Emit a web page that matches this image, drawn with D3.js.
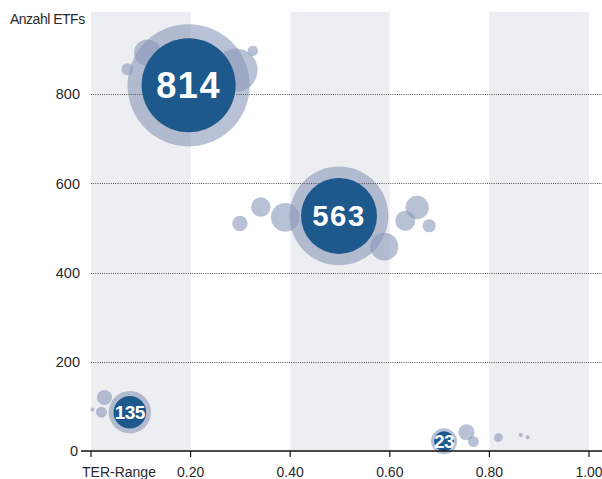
<!DOCTYPE html>
<html>
<head>
<meta charset="utf-8">
<script src="https://cdn.jsdelivr.net/npm/d3@7.9.0/dist/d3.min.js"></script>
<style>
  body { margin: 0; background: #fff; }
  svg { display: block; font-family: "Liberation Sans", Arial, sans-serif; }
</style>
</head>
<body>
<div id="chart"></div>
<script>
// Main bubbles: TER position, y position, bubble size, label (number of ETFs)
const groupTer = [0.196, 0.498, 0.078, 0.709];
const groupY = [820, 527, 87, 22];
const groupSize = [814, 532, 98, 37];
const groupLabel = ["814", "563", "135", "23"];

// Small bubbles around each group
const smallTer = [0.113, 0.073, 0.291, 0.325,
                  0.299, 0.341, 0.390, 0.589, 0.631, 0.655, 0.679,
                  0.003, 0.027, 0.021,
                  0.754, 0.768, 0.818, 0.863, 0.877];
const smallY = [893, 856, 854, 897,
                510, 547, 524, 458, 516, 546, 505,
                93, 120, 87,
                42, 21, 30, 36, 31];
const smallSize = [65, 13, 173, 10,
                   22, 35, 75, 72, 37, 50, 16,
                   1.5, 21, 11,
                   24, 11, 7, 1.5, 1.5];

const xTicks = [0, 0.2, 0.4, 0.6, 0.8, 1.0];
const yTicks = [0, 200, 400, 600, 800];
const bands = [[0, 0.2], [0.4, 0.6], [0.8, 1.0]];

const W = 602, H = 479;
const margin = { top: 5, left: 91 };

const svg = d3.select("#chart").append("svg")
  .attr("width", W).attr("height", H);

const x = d3.scaleLinear().domain([0, 1]).range([margin.left, 589]);
const y = d3.scaleLinear().domain([0, 1000]).range([451, margin.top]);
const r = d3.scaleSqrt().domain([0, 814]).range([0, 47]);

// grey bands
svg.append("g").selectAll("rect").data(bands).join("rect")
  .attr("x", d => x(d[0]))
  .attr("y", y(985))
  .attr("width", d => x(d[1]) - x(d[0]))
  .attr("height", y(0) - y(985))
  .attr("fill", "#edeef1");

const fillLight = "rgb(137,152,185)";

// halos
const groups = groupTer.map((t, i) => ({ t, v: groupY[i], s: groupSize[i], label: groupLabel[i] }));
svg.append("g").selectAll("circle").data(groups).join("circle")
  .attr("cx", d => x(d.t))
  .attr("cy", d => y(d.v))
  .attr("r", d => r(d.s) * 1.3)
  .attr("fill", fillLight)
  .attr("fill-opacity", 0.6);

// small bubbles
const smalls = smallTer.map((t, i) => ({ t, v: smallY[i], s: smallSize[i] }));
svg.append("g").selectAll("circle").data(smalls).join("circle")
  .attr("cx", d => x(d.t))
  .attr("cy", d => y(d.v))
  .attr("r", d => r(d.s))
  .attr("fill", fillLight)
  .attr("fill-opacity", 0.6);

// dotted grid lines
svg.append("g").selectAll("line").data(yTicks.filter(d => d > 0)).join("line")
  .attr("x1", x(0)).attr("x2", W)
  .attr("y1", d => Math.round(y(d)) + 0.5)
  .attr("y2", d => Math.round(y(d)) + 0.5)
  .attr("stroke", "#555")
  .attr("stroke-width", 1)
  .attr("stroke-dasharray", "1,1.2");

// dark bubbles
svg.append("g").selectAll("circle").data(groups).join("circle")
  .attr("cx", d => x(d.t))
  .attr("cy", d => y(d.v))
  .attr("r", d => r(d.s))
  .attr("fill", "#1d598c");

svg.append("g").selectAll("text").data(groups).join("text")
  .attr("x", d => x(d.t))
  .attr("y", d => y(d.v))
  .attr("dy", "0.36em")
  .attr("text-anchor", "middle")
  .attr("fill", "#fff")
  .attr("font-weight", "bold")
  .attr("font-size", d => Math.max(19, r(d.s) * 0.77) + "px")
  .attr("letter-spacing", d => r(d.s) > 30 ? "1.5px" : "-0.5px")
  .text(d => d.label);

// x axis
svg.append("line")
  .attr("x1", 81).attr("x2", W)
  .attr("y1", y(0)).attr("y2", y(0))
  .attr("stroke", "#111").attr("stroke-width", 1.5);

svg.append("g").selectAll("line").data(xTicks).join("line")
  .attr("x1", d => x(d)).attr("x2", d => x(d))
  .attr("y1", y(0)).attr("y2", y(0) + 6)
  .attr("stroke", "#111").attr("stroke-width", 1.2);

svg.append("g").selectAll("text").data(xTicks).join("text")
  .attr("x", d => d === 0 ? x(d) - 9 : x(d))
  .attr("y", 477)
  .attr("text-anchor", d => d === 0 ? "start" : "middle")
  .attr("font-size", "14px")
  .attr("fill", "#2a2a2a")
  .text(d => d === 0 ? "TER-Range" : d3.format(".2f")(d));

// y labels
svg.append("g").selectAll("text").data(yTicks).join("text")
  .attr("x", d => d === 0 ? 78 : 80)
  .attr("y", d => y(d))
  .attr("dy", "0.36em")
  .attr("text-anchor", "end")
  .attr("font-size", "14.5px")
  .attr("fill", "#2a2a2a")
  .text(d => d);

svg.append("text")
  .attr("x", 10).attr("y", 24)
  .attr("font-size", "14px")
  .attr("letter-spacing", "-0.5px")
  .attr("fill", "#2a2a2a")
  .text("Anzahl ETFs");
</script>
</body>
</html>
